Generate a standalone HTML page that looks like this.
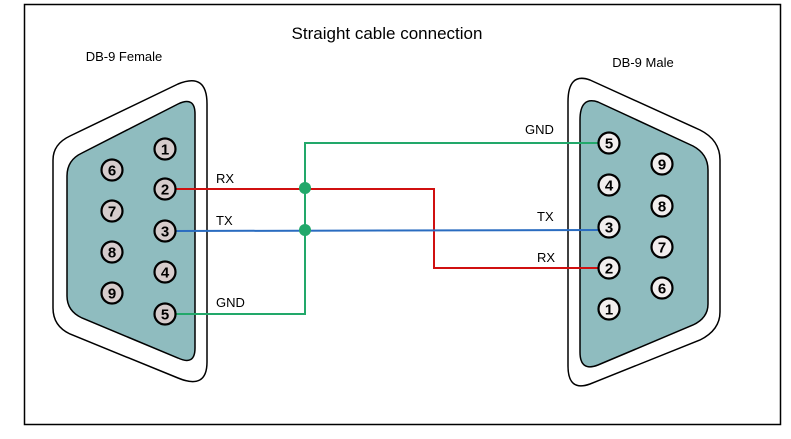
<!DOCTYPE html>
<html><head><style>body{margin:0;background:#fff}svg{display:block}</style></head><body>
<svg width="791" height="439" viewBox="0 0 791 439" xmlns="http://www.w3.org/2000/svg" font-family="Liberation Sans, sans-serif">
<rect x="24.5" y="4.5" width="756" height="420" fill="#fff" stroke="#000" stroke-width="1.5"/>
<text x="387" y="39" font-size="17" text-anchor="middle">Straight cable connection</text>
<text x="124" y="61" font-size="13" text-anchor="middle">DB-9 Female</text>
<text x="643" y="67" font-size="13" text-anchor="middle">DB-9 Male</text>
<path d="M70,136 L178,84 Q207,72 207,104 L207,362 Q207,390 178,378 L70,334 Q53,326 53,308 L53,160 Q53,144 70,136Z" fill="#fff" stroke="#000" stroke-width="1.5"/>
<path d="M82,153 L178,104 Q195,96 195,114 L195,348 Q195,366 178,358 L82,318 Q67,311 67,296 L67,176 Q67,160 82,153Z" fill="#8fbcbf" stroke="#000" stroke-width="1.5"/>
<path d="M590,80 L700,130 Q720,140 720,160 L720,312 Q720,330 700,340 L590,384 Q568,392 568,366 L568,102 Q568,72 590,80Z" fill="#fff" stroke="#000" stroke-width="1.5"/>
<path d="M598,102 L693,146 Q708,154 708,170 L708,304 Q708,318 693,325 L598,365 Q580,372 580,352 L580,120 Q580,96 598,102Z" fill="#8fbcbf" stroke="#000" stroke-width="1.5"/>
<polyline points="175,189 434,189 434,268 599,268" fill="none" stroke="#d01010" stroke-width="2"/>
<polyline points="175,231 599,230" fill="none" stroke="#2a6cc0" stroke-width="2"/>
<polyline points="175,314 305,314 305,143 599,143" fill="none" stroke="#22a86a" stroke-width="2"/>
<circle cx="305" cy="188" r="6" fill="#22a86a"/>
<circle cx="305" cy="230" r="6" fill="#22a86a"/>
<g font-size="13">
<text x="216" y="183">RX</text><text x="216" y="225">TX</text><text x="216" y="307">GND</text>
<text x="525" y="134">GND</text><text x="537" y="221">TX</text><text x="537" y="262">RX</text>
</g>
<g font-weight="bold" font-size="15" text-anchor="middle" stroke-width="2.2" stroke="#000">
<g fill="#d6cccc">
<circle cx="165" cy="149" r="10.5"/><circle cx="165" cy="189" r="10.5"/><circle cx="165" cy="231" r="10.5"/><circle cx="165" cy="272" r="10.5"/><circle cx="165" cy="314" r="10.5"/>
<circle cx="112" cy="170" r="10.5"/><circle cx="112" cy="211" r="10.5"/><circle cx="112" cy="252" r="10.5"/><circle cx="112" cy="293" r="10.5"/>
</g>
<g fill="#f2eeee">
<circle cx="609" cy="143" r="10.5"/><circle cx="609" cy="185" r="10.5"/><circle cx="609" cy="227" r="10.5"/><circle cx="609" cy="268" r="10.5"/><circle cx="609" cy="309" r="10.5"/>
<circle cx="662" cy="164" r="10.5"/><circle cx="662" cy="206" r="10.5"/><circle cx="662" cy="247" r="10.5"/><circle cx="662" cy="288" r="10.5"/>
</g>
<g fill="#000" stroke="none">
<text x="165" y="154.5">1</text><text x="165" y="194.5">2</text><text x="165" y="236.5">3</text><text x="165" y="277.5">4</text><text x="165" y="319.5">5</text>
<text x="112" y="175.5">6</text><text x="112" y="216.5">7</text><text x="112" y="257.5">8</text><text x="112" y="298.5">9</text>
<text x="609" y="148.5">5</text><text x="609" y="190.5">4</text><text x="609" y="232.5">3</text><text x="609" y="273.5">2</text><text x="609" y="314.5">1</text>
<text x="662" y="169.5">9</text><text x="662" y="211.5">8</text><text x="662" y="252.5">7</text><text x="662" y="293.5">6</text>
</g>
</g>
</svg>
</body></html>
